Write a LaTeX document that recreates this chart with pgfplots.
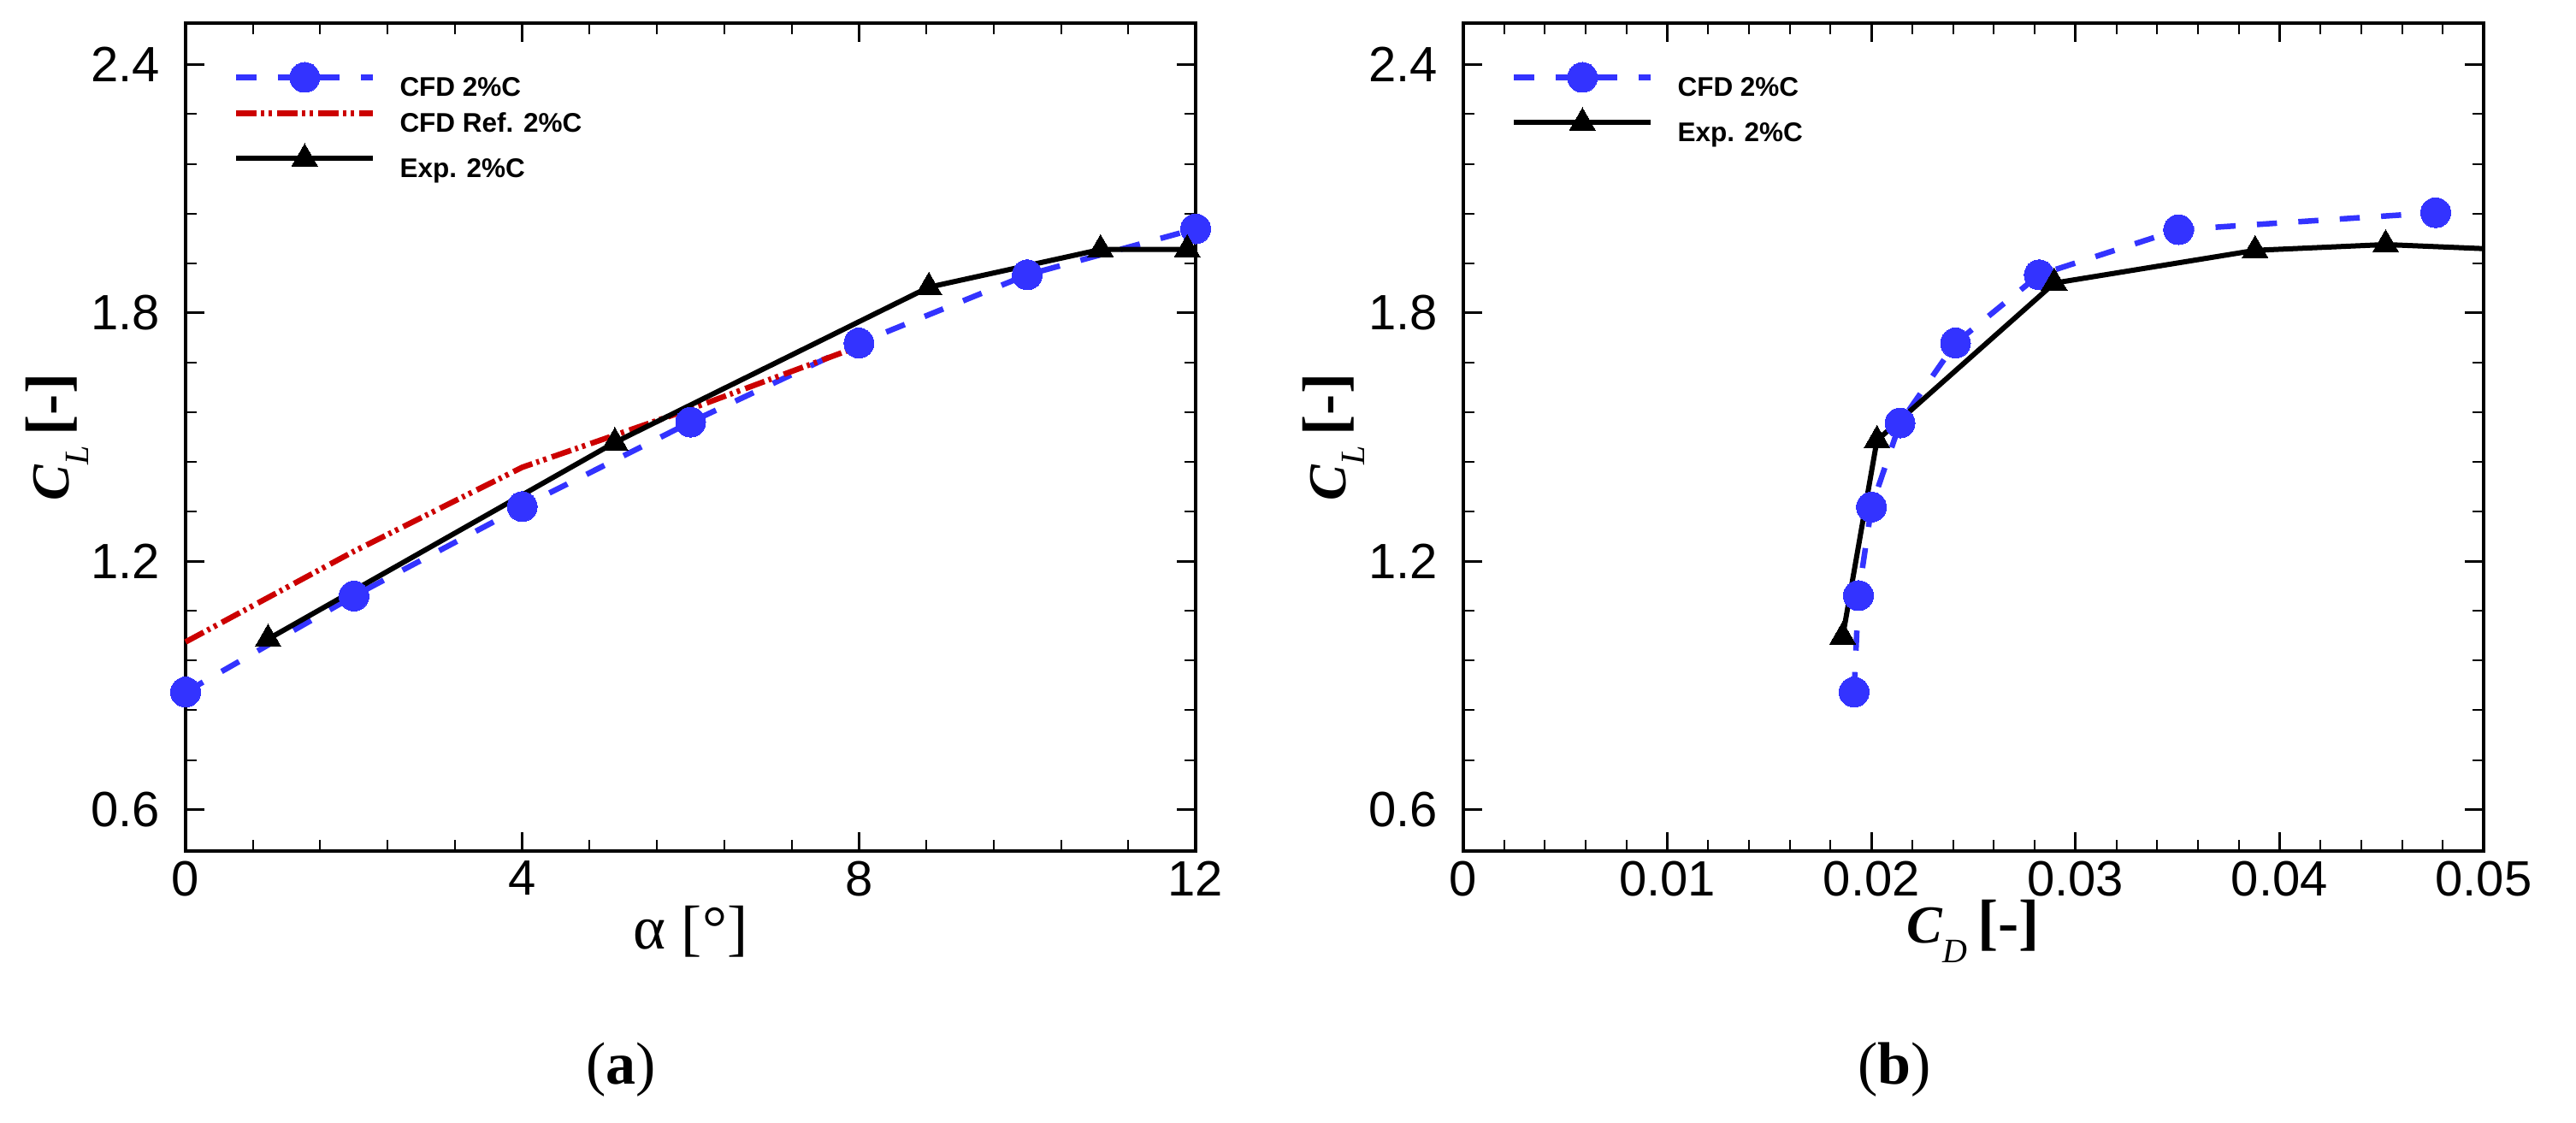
\documentclass[border=0pt]{standalone}
\usepackage{fontspec}
\setmainfont{Liberation Sans}
\newfontfamily\tnr{Liberation Serif}
\usepackage{pgfplots}
\pgfplotsset{compat=1.18}

\definecolor{cfdblue}{HTML}{3333FF}
\definecolor{refred}{HTML}{CC0000}

% common look of both panels
\pgfplotsset{
  panel/.style={
    scale only axis, height=193.6pt,
    ymin=0.5, ymax=2.5,
    ytick={0.6,1.2,1.8,2.4}, yticklabels={0.6,1.2,1.8,2.4},
    scaled x ticks=false, scaled y ticks=false,
    minor x tick num=4, minor y tick num=4,
    tick align=inside, tick pos=both,
    axis line style={line width=0.8pt},
    major tick length=4.4pt, minor tick length=2.6pt,
    every major tick/.append style={black,line width=0.6pt},
    every minor tick/.append style={black,line width=0.4pt},
    tick label style={font=\fontsize{11.6}{12}\selectfont, inner sep=0pt},
    yticklabel style={xshift=-5.8pt},
    xticklabel style={yshift=-2.2pt},
    xlabel style={at={(axis description cs:0.5,-0.097)}, anchor=center, inner sep=0pt},
    ylabel style={at={(axis description cs:-0.127,0.5)}, anchor=center, inner sep=0pt},
    ylabel={\tnr\fontsize{14.5}{15}\selectfont{\bfseries\itshape\fontsize{12.5}{13}\selectfont C}\raisebox{-4.5pt}{\itshape\fontsize{8}{9}\selectfont L}\,\bfseries[-]},
    legend cell align=left,
    legend style={at={(axis description cs:0,1)}, anchor=north west,
      xshift=11pt, yshift=-9pt, draw=none, fill=none, inner sep=0pt,
      font=\fontsize{6.3}{7}\selectfont\bfseries,
      row sep=1.4pt, column sep=5.6pt,
      nodes={inner sep=0pt, text height=5.7pt, text depth=1.3pt}},
    legend image code/.code={\draw[mark repeat=2,mark phase=2]
      plot coordinates {(0pt,2.2pt) (16pt,2.2pt) (32pt,2.2pt)};},
  },
  cfd/.style={cfdblue, line width=1.3pt, dash pattern=on 4.7pt off 5pt,
    mark=*, mark size=3.5pt, mark options={solid, fill=cfdblue, draw=cfdblue, line width=0pt}},
  cfdref/.style={refred, line width=1.3pt,
    dash pattern=on 4.8pt off 1pt on 0.7pt off 1pt on 0.8pt off 1.3pt, no markers},
  expdata/.style={black, line width=1.2pt, solid,
    mark=triangle*, mark size=3.5pt, mark options={solid, fill=black, line width=0pt}},
}

\begin{document}
\begin{tikzpicture}
\path[use as bounding box] (0,0) rectangle (602.4pt,262.4pt);

\begin{axis}[panel, at={(43.4pt,63.4pt)}, anchor=south west, width=236.2pt,
  xmin=0, xmax=12, xtick={0,4,8,12}, xticklabels={0,4,8,12},
  clip=false,
  xlabel={\tnr\fontsize{14.5}{15}\selectfont α [°]}]
\addplot[cfd] coordinates {(0,0.884) (2,1.116) (4,1.332) (6,1.536) (8,1.727) (10,1.892) (12,2.003)};
\addlegendentry{CFD 2\%C}
\addplot[cfdref] coordinates {(0,1.005) (2,1.224) (4,1.427) (6,1.568) (8,1.719)};
\addlegendentry{CFD Ref. 2\%C}
\addplot[expdata] coordinates {(0.98,1.012) (5.1,1.487) (8.83,1.862) (10.87,1.953) (11.9,1.953)};
\addlegendentry{Exp. 2\%C}
\end{axis}

\begin{axis}[panel, at={(342.2pt,63.4pt)}, anchor=south west, width=238.6pt,
  xmin=0, xmax=0.05, xtick={0,0.01,0.02,0.03,0.04,0.05},
  xticklabels={0,0.01,0.02,0.03,0.04,0.05},
  xlabel={\tnr\fontsize{14.5}{15}\selectfont{\bfseries\itshape\fontsize{12.5}{13}\selectfont C}\raisebox{-4.5pt}{\itshape\fontsize{8}{9}\selectfont D}\,\bfseries[-]}]
\addplot[cfd] coordinates {(0.01915,0.884) (0.01936,1.117) (0.0200,1.331) (0.0214,1.534) (0.02412,1.727) (0.02822,1.892) (0.03505,2.001) (0.04765,2.042)};
\addlegendentry{CFD 2\%C}
\addplot[expdata] coordinates {(0.01859,1.018) (0.02027,1.492) (0.02896,1.872) (0.0388,1.951) (0.0452,1.965) (0.0525,1.950)};
\addlegendentry{Exp. 2\%C}
\end{axis}

\node[font=\tnr\fontsize{14}{15}\selectfont] at (145.2pt,12.2pt) {(\textbf{a})};
\node[font=\tnr\fontsize{14}{15}\selectfont] at (443pt,12.2pt) {(\textbf{b})};
\end{tikzpicture}
\end{document}
